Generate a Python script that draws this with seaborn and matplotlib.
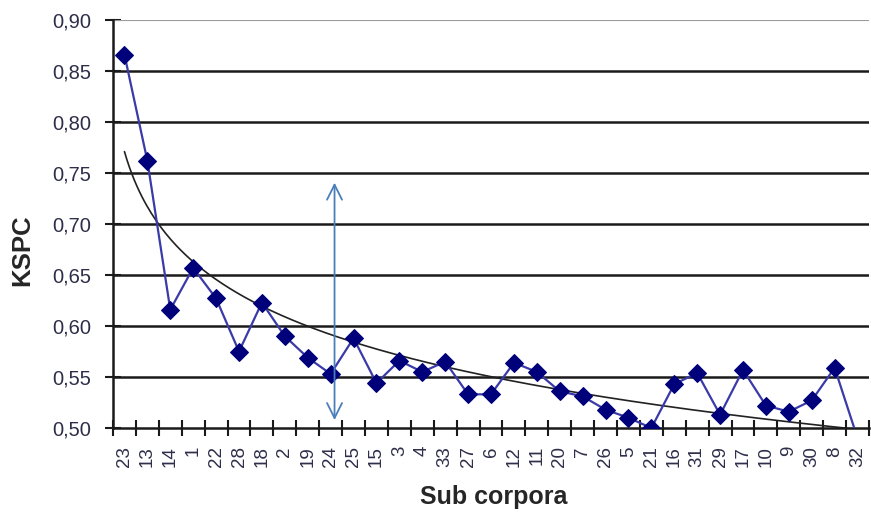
import numpy as np
import pandas as pd
import matplotlib
matplotlib.use("Agg")
import matplotlib.pyplot as plt
import seaborn as sns
from matplotlib.ticker import FixedLocator, FuncFormatter

# Sub-corpus identifiers in plotted order and their KSPC values
corpora = ["23", "13", "14", "1", "22", "28", "18", "2", "19", "24", "25", "15",
           "3", "4", "33", "27", "6", "12", "11", "20", "7", "26", "5", "21",
           "16", "31", "29", "17", "10", "9", "30", "8", "32"]
kspc = [0.866, 0.762, 0.616, 0.657, 0.627, 0.575, 0.623, 0.590, 0.569, 0.553,
        0.588, 0.544, 0.566, 0.555, 0.565, 0.533, 0.533, 0.564, 0.555, 0.536,
        0.531, 0.518, 0.510, 0.500, 0.543, 0.554, 0.513, 0.557, 0.522, 0.516,
        0.527, 0.559, 0.490]

# Range marker (double arrow)
arrow_top = 0.7405
arrow_bottom = 0.5078

sns.set_theme(style="white")
plt.rcParams["font.family"] = ["Liberation Sans", "DejaVu Sans"]

df = pd.DataFrame({"pos": np.arange(len(corpora)), "corpus": corpora, "kspc": kspc})

fig = plt.figure(figsize=(8.71, 5.12), dpi=100)
ax = fig.add_axes([113 / 871, (512 - 428) / 512, 756 / 871, 408 / 512])

# horizontal grid
for y in np.arange(0.55, 0.90, 0.05):
    ax.axhline(y, color="#1a1a1a", lw=1.8, zorder=1)
ax.axhline(0.90, color="#9a9a9a", lw=1.5, zorder=1)

# logarithmic trend line fitted to the data
xs = df["pos"].to_numpy() + 1.0
b, a = np.polyfit(np.log(xs), df["kspc"].to_numpy(), 1)
xf = np.linspace(1, len(xs), 300)
ax.plot(xf - 1, a + b * np.log(xf), color="#222222", lw=1.2, zorder=2)

sns.lineplot(data=df, x="pos", y="kspc", ax=ax, color="#3a3aa8", lw=1.6,
             marker="D", markersize=9.5, markerfacecolor="#00007a",
             markeredgecolor="#00007a", zorder=3, legend=False)

ax.annotate("", xy=(9.17, arrow_top), xytext=(9.17, arrow_bottom),
            arrowprops=dict(arrowstyle="<->,head_length=0.9,head_width=0.45",
                            color="#4a7ebb", lw=1.3, shrinkA=0, shrinkB=0),
            zorder=4)

ax.set_xlim(-0.5, len(corpora) - 0.5)
ax.set_ylim(0.50, 0.90)

for s in ["top", "right"]:
    ax.spines[s].set_visible(False)
for s in ["left", "bottom"]:
    ax.spines[s].set_color("#1a1a1a")
    ax.spines[s].set_linewidth(1.8)

ax.yaxis.set_major_locator(FixedLocator(np.round(np.arange(0.50, 0.901, 0.05), 2)))
ax.yaxis.set_major_formatter(FuncFormatter(lambda v, p: f"{v:.2f}".replace(".", ",")))
ax.tick_params(axis="y", direction="inout", length=12, width=1.5, color="#1a1a1a",
               labelsize=14.5, labelcolor="#2e2e4a", pad=10, left=True)

ax.xaxis.set_major_locator(FixedLocator(np.arange(-0.5, len(corpora), 1.0)))
ax.xaxis.set_major_formatter(FuncFormatter(lambda v, p: ""))
ax.set_xticks(df["pos"], labels=corpora, minor=True)
ax.tick_params(axis="x", which="major", direction="inout", length=12, width=1.5,
               color="#1a1a1a", bottom=True)
ax.tick_params(axis="x", which="minor", length=0, labelsize=13.5,
               labelcolor="#2e2e4a", labelrotation=90, pad=13, bottom=True)

ax.set_xlabel("Sub corpora", fontsize=18, fontweight="bold")
ax.set_ylabel("KSPC", fontsize=18.5, fontweight="bold")
ax.xaxis.set_label_coords(0.503, -0.14)
ax.yaxis.set_label_coords(-0.1045, 0.436)
ax.grid(False)

fig.savefig("out.png", dpi=100)
